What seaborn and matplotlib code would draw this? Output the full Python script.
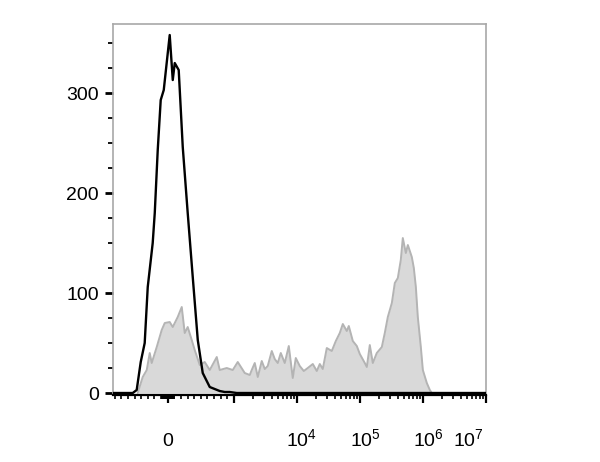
import numpy as np
import matplotlib.pyplot as plt
import seaborn as sns
from matplotlib.transforms import ScaledTranslation

# Estilo
sns.set_style("white")
plt.rcParams['font.family'] = ['Liberation Sans', 'DejaVu Sans']
plt.rcParams['mathtext.fontset'] = 'custom'
plt.rcParams['mathtext.rm'] = 'Liberation Sans'

# Control (unstained) - black outline
ctrl_x = [-830, -529, -469, -408, -348, -302, -227, -196, -151, -106, -60,
          30, 76, 106, 166, 227, 302, 378, 454, 529, 635, 710, 786, 862,
          937, 1109, 1e7]
ctrl_counts = [0, 0, 3, 31, 50, 106, 150, 180, 243, 293, 303,
               358, 313, 330, 323, 246, 180, 116, 53, 20, 6, 4, 2, 1,
               1, 0, 0]

# Stained sample - gray filled
stain_x = [-454, -378, -317, -272, -242, -166, -91, -45, 30, 76, 151, 212,
           257, 302, 363, 408, 484, 559, 635, 741, 786, 892, 983, 1151,
           1486, 1786, 1919, 2143, 2393, 2767, 3090, 3443, 3990, 4446,
           4966, 5546, 6412, 7430, 8590, 9590, 11090, 12850, 14860, 17860,
           20650, 23070, 25720, 29780, 35730, 41400, 47860, 53460, 61800,
           66530, 77050, 89130, 99540, 119400, 128500, 143300, 159900,
           184900, 222300, 247800, 276700, 320600, 357300, 398900, 444600,
           478600, 534600, 575400, 665300, 716100, 770900, 828200, 924700,
           995400, 1151000, 1285000, 1380000]
stain_counts = [0, 16, 23, 40, 30, 46, 63, 70, 71, 66, 76, 86,
                60, 66, 53, 43, 28, 31, 23, 36, 23, 25, 23, 31,
                20, 18, 23, 30, 16, 32, 24, 27, 42, 34,
                30, 40, 30, 47, 15, 35, 27, 22, 25, 29,
                22, 29, 24, 45, 42, 52, 60, 69, 62,
                67, 52, 47, 39, 30, 26, 48, 30,
                40, 46, 60, 76, 90, 110, 115, 133,
                155, 140, 148, 136, 125, 106, 76, 46,
                23, 10, 3, 0]

major_ticks = [0, 1e3, 1e4, 1e5, 1e6, 1e7]
major_labels = ['0', '', r'$\mathregular{10^{4}}$', r'$\mathregular{10^{5}}$',
                r'$\mathregular{10^{6}}$', r'$\mathregular{10^{7}}$']
minor_ticks = ([-800, -700, -600, -500, -400, -300, -200, -100]
               + list(range(-90, 100, 10))
               + [100, 200, 300, 400, 500, 600, 700, 800, 900]
               + [m * 10 ** k for k in range(3, 7) for m in range(2, 10)])

fig = plt.figure(figsize=(6, 4.62), dpi=100)
ax = fig.add_axes([0.188, 0.145, 0.622, 0.803])
ax.set_xscale('symlog', linthresh=1000, linscale=0.945)

ax.fill_between(stain_x, stain_counts, color='#d9d9d9', lw=0, zorder=1)
sns.lineplot(x=stain_x, y=stain_counts, color='#b4b4b4', lw=1.4, ax=ax,
             sort=False, zorder=2)
sns.lineplot(x=ctrl_x, y=ctrl_counts, color='black', lw=1.7, ax=ax,
             sort=False, zorder=3)

ax.set_xlim(-830, 1e7)
ax.set_ylim(-2, 369)
ax.set_xlabel('')
ax.set_ylabel('')

ax.set_xticks(major_ticks)
ax.set_xticklabels(major_labels)
ax.set_xticks(minor_ticks, minor=True)
ax.set_yticks([0, 100, 200, 300])
ax.set_yticks([25, 50, 75, 125, 150, 175, 225, 250, 275, 325, 350], minor=True)

ax.tick_params(axis='x', which='major', bottom=True, length=6, width=1.6,
               pad=31, labelsize=14, color='black', labelcolor='black',
               direction='out')
ax.tick_params(axis='x', which='minor', bottom=True, length=3, width=1.2,
               color='black', direction='out')
ax.tick_params(axis='y', which='major', left=True, length=6, width=2,
               pad=4, labelsize=14, color='black', labelcolor='black',
               direction='out')
ax.tick_params(axis='y', which='minor', left=True, length=3.5, width=1.3,
               color='black', direction='out')

for s in ['left', 'top', 'right']:
    ax.spines[s].set_color('#a8a8a8')
    ax.spines[s].set_linewidth(1.2)
ax.spines['bottom'].set_color('black')
ax.spines['bottom'].set_linewidth(1.6)

# etiquetas: base "10" centrada en el tick, 10^7 desplazada a la izquierda
shifts = [0, 0, 0.05, 0.05, 0.05, -0.18]
for lab, dx in zip(ax.get_xticklabels(), shifts):
    lab.set_va('baseline')
    lab.set_transform(lab.get_transform() + ScaledTranslation(dx, 0, fig.dpi_scale_trans))

fig.savefig('out.png', dpi=100)
